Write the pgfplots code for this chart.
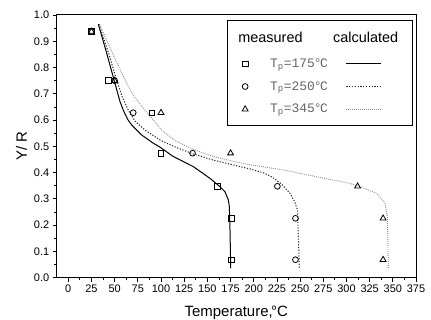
\documentclass[border=0pt]{standalone}
\usepackage{pgfplots}
\pgfplotsset{compat=1.18}
\usepackage{fontspec}
\setmainfont{Liberation Sans}
\newfontfamily\monofont{Liberation Mono}
\pgfplotsset{
  linelegend/.style={legend image code/.code={\draw[##1] (0bp,0bp) -- (35bp,0bp);}},
  marklegend/.style={legend image code/.code={\path[draw=none,fill=none] (-5bp,-3bp) rectangle (25bp,3bp); \draw[##1] plot coordinates {(0bp,0bp)};}},
}
\newcommand{\Tp}[1]{T\textsubscript{p}=#1\kern-1bp°\kern-1.5bp C}
\begin{document}
\begin{tikzpicture}
\useasboundingbox (-56.7bp,-42.3bp) rectangle (374.3bp,277.7bp);
\begin{axis}[
  scale only axis, width=359.3bp, height=262.7bp,
  xmin=-12.5, xmax=375, ymin=0, ymax=1,
  xtick={0,25,50,75,100,125,150,175,200,225,250,275,300,325,350,375},
  ytick={0,0.1,0.2,0.3,0.4,0.5,0.6,0.7,0.8,0.9,1.0},
  minor x tick num=1, minor y tick num=1,
  tick align=outside, xtick pos=bottom, ytick pos=left,
  major tick length=4bp, minor tick length=2.5bp,
  axis line style={line width=1bp},
  every tick/.style={line width=0.8bp, black},
  /pgf/number format/assume math mode=true,
  ticklabel style={font=\fontsize{11}{13}\selectfont},
  yticklabel style={/pgf/number format/.cd, fixed, fixed zerofill, precision=1},
  xlabel={Temperature,\kern-1.5bp°C}, ylabel={Y/ R},
  label style={font=\fontsize{15}{18}\selectfont},
  xlabel style={yshift=-6.5bp},
  legend columns=2,
  legend style={at={(axis description cs:0.510,0.834)}, anchor=north west, draw=none, fill=none,
    inner sep=0pt, nodes={inner sep=0pt},
    font=\monofont\fontsize{13}{15}\selectfont\color{black!60}, row sep=12.5bp, column sep=0pt,
    /tikz/every even column/.append style={column sep=18bp}},
  legend cell align=left,
]
\addplot[only marks, mark=square, mark size=2.8bp, black, mark options={line width=0.8bp}, marklegend] coordinates {
(25,0.937) (43,0.75) (90,0.628) (100,0.474) (161,0.348) (176,0.226) (176,0.0685)};
\addlegendentry{\Tp{175}}
\addplot[black, line width=1bp, linelegend] coordinates {
(32.4,0.965) (41,0.86) (49.4,0.752) (55.8,0.670) (59.3,0.638) (64,0.603) (68.4,0.581) (73.7,0.562) (79.2,0.543) (91.7,0.512) (98.9,0.497) (113.3,0.461) (134.8,0.423) (152.9,0.378) (163.7,0.346) (169,0.327) (172.6,0.296) (173.7,0.270) (174.4,0.182) (175.2,0.036)};
\addlegendentry{}
\addplot[only marks, mark=o, mark size=2.9bp, black, mark options={line width=0.8bp}, marklegend] coordinates {
(25,0.937) (50,0.75) (70,0.628) (134,0.474) (225.5,0.348) (245,0.226) (245,0.0685)};
\addlegendentry{\Tp{250}}
\addplot[black!85, line width=1bp, dash pattern=on 1.2bp off 1.6bp, linelegend] coordinates {
(33.1,0.965) (43,0.86) (52.2,0.752) (58,0.69) (64.7,0.638) (72,0.596) (82.7,0.562) (100,0.522) (117,0.495) (134.8,0.471) (156,0.448) (178,0.429) (196,0.414) (210,0.400) (220,0.383) (230,0.356) (239.2,0.321) (244,0.29) (247.2,0.258) (248.1,0.156) (249.2,0.036)};
\addlegendentry{}
\addplot[only marks, mark=triangle, mark size=3.4bp, black, mark options={line width=0.8bp}, marklegend] coordinates {
(25,0.937) (50,0.75) (100,0.628) (175,0.474) (312,0.348) (339.5,0.226) (339.5,0.0685)};
\addlegendentry{\Tp{345}}
\addplot[black!45, line width=0.9bp, dash pattern=on 0.9bp off 1.1bp, linelegend] coordinates {
(34.2,0.962) (47,0.86) (61.3,0.752) (71,0.69) (82.7,0.638) (100.7,0.562) (115,0.522) (129.4,0.497) (145,0.475) (160,0.458) (178,0.443) (196,0.430) (231.9,0.410) (268,0.384) (303.9,0.359) (314.7,0.346) (332.7,0.321) (341.6,0.283) (344.1,0.232) (345.2,0.036)};
\addlegendentry{}
\draw[line width=0.9bp] (rel axis cs:0.474,0.581) rectangle (rel axis cs:0.989,0.981);
\node[anchor=base west, inner sep=0pt, font=\fontsize{14.5}{16}\selectfont] at (rel axis cs:0.505,0.897) {measured};
\node[anchor=base west, inner sep=0pt, font=\fontsize{14.5}{16}\selectfont] at (rel axis cs:0.769,0.897) {calculated};
\end{axis}
\end{tikzpicture}
\end{document}
